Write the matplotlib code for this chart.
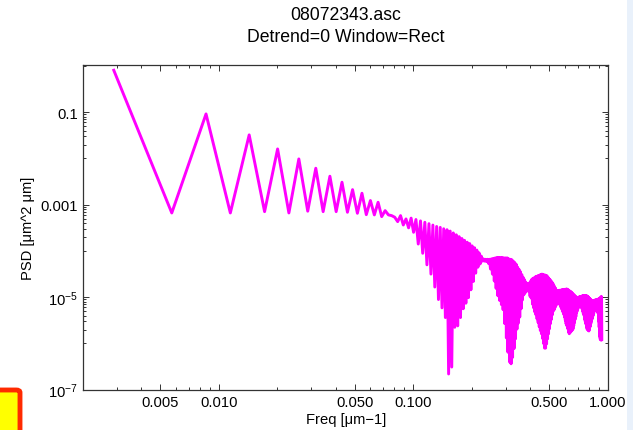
import numpy as np
import matplotlib
matplotlib.use("Agg")
import matplotlib.pyplot as plt
from matplotlib.patches import FancyBboxPatch, Rectangle

plt.rcParams['font.family'] = ['Liberation Sans', 'DejaVu Sans']
plt.rcParams['mathtext.fontset'] = 'custom'
plt.rcParams['mathtext.rm'] = 'Liberation Sans'
plt.rcParams['mathtext.it'] = 'Liberation Sans:italic'

# ---- data -------------------------------------------------------------
title_lines = ["08072343.asc", "Detrend=0 Window=Rect"]
x_label = "Freq [\u03bcm\u22121]"
y_label = "PSD [\u03bcm^2 \u03bcm]"

# frequency resolution of the spectrum (1 / scan length), um^-1
freq_step = 0.00287

# log10 of the PSD at each frequency bin k = 1, 2, 3, ...
psd_log10 = [
    -0.063, -3.178, -1.037, -3.178, -1.49, -3.15, -1.794, -3.178, -2.01, -3.14,
    -2.211, -3.15, -2.384, -3.15, -2.514, -3.163, -2.674, -3.185, -2.752, -3.215,
    -2.91, -3.22, -2.947, -3.258, -3.128, -3.22, -3.236, -3.27, -3.366, -3.236,
    -3.438, -3.308, -3.5, -3.29, -3.596, -3.32, -3.85,
    -3.35, -4.05, -3.38, -4.30, -3.41, -4.50, -3.44, -4.78, -3.47, -5.05,
    -3.49, -5.23, -3.52, -5.44, -3.54, -6.66, -3.57, -6.51, -3.61, -5.65,
    -3.65, -5.62, -3.69, -5.44, -3.73, -5.25, -3.77, -5.13, -3.81, -5.01,
    -3.84, -4.84, -3.89, -4.66, -3.93, -4.48, -3.98, -4.35, -4.04, -4.28,
    -4.11, -4.22, -4.17, -4.22, -4.18, -4.23, -4.18, -4.27, -4.18, -4.39,
    -4.17, -4.50, -4.16, -4.65, -4.15, -4.81, -4.14, -4.97, -4.14, -5.07,
    -4.14, -5.16, -4.14, -5.27, -4.15, -5.57, -4.15, -5.88, -4.15, -6.19,
    -4.17, -6.40, -4.18, -6.44, -4.19, -6.30, -4.22, -6.11, -4.25, -5.90,
    -4.29, -5.69, -4.35, -5.56, -4.40, -5.43, -4.45, -5.25, -4.51, -5.06,
    -4.57, -4.95, -4.62, -4.91, -4.67, -4.87, -4.70, -4.84, -4.73, -4.88,
    -4.69, -4.98, -4.65, -5.02, -4.61, -5.15, -4.59, -5.23, -4.58, -5.32,
    -4.56, -5.38, -4.55, -5.47, -4.54, -5.55, -4.53, -5.64, -4.52, -5.72,
    -4.51, -5.79, -4.50, -5.89, -4.51, -6.00, -4.52, -6.10, -4.52, -6.10,
    -4.53, -6.01, -4.54, -5.90, -4.57, -5.79, -4.60, -5.68, -4.62, -5.57,
    -4.65, -5.48, -4.67, -5.38, -4.70, -5.30, -4.74, -5.27, -4.78, -5.22,
    -4.81, -5.18, -4.85, -5.13, -4.86, -5.09, -4.86, -5.11, -4.85, -5.15,
    -4.85, -5.19, -4.85, -5.23, -4.84, -5.27, -4.84, -5.32, -4.84, -5.37,
    -4.83, -5.43, -4.83, -5.50, -4.83, -5.58, -4.82, -5.62, -4.83, -5.68,
    -4.84, -5.75, -4.85, -5.79, -4.87, -5.77, -4.87, -5.75, -4.89, -5.73,
    -4.90, -5.71, -4.92, -5.69, -4.94, -5.62, -4.95, -5.55, -4.97, -5.48,
    -4.98, -5.42, -5.00, -5.33, -5.01, -5.30, -5.01, -5.25, -5.00, -5.20,
    -5.00, -5.15, -4.99, -5.10, -4.99, -5.15, -4.99, -5.20, -4.98, -5.25,
    -4.97, -5.30, -4.97, -5.35, -4.97, -5.39, -4.97, -5.47, -4.97, -5.52,
    -4.97, -5.58, -4.97, -5.64, -4.97, -5.69, -4.98, -5.70, -4.99, -5.72,
    -5.01, -5.73, -5.02, -5.69, -5.03, -5.64, -5.05, -5.58, -5.06, -5.53,
    -5.07, -5.48, -5.08, -5.44, -5.08, -5.40, -5.07, -5.36, -5.07, -5.31,
    -5.07, -5.27, -5.06, -5.26, -5.06, -5.27, -5.06, -5.29, -5.06, -5.30,
    -5.05, -5.31, -5.05, -5.35, -5.04, -5.52, -5.03, -5.65, -5.03, -5.85,
    -5.02, -5.91, -5.01, -5.92, -4.99, -5.93, -4.99, -5.94,
]

x_major = [0.005, 0.01, 0.05, 0.1, 0.5, 1.0]
x_major_labels = ["0.005", "0.010", "0.050", "0.100", "0.500", "1.000"]
x_minor = [m * d for d in (0.001, 0.01, 0.1) for m in range(2, 10) if m != 5]

y_major = [1e-1, 1e-3, 1e-5, 1e-7]
y_major_labels = ["0.1", "0.001", r"$10^{-5}$", r"$10^{-7}$"]
# unlabelled decades, and the 2..9 subdivisions below each labelled decade
y_mid = [1.0, 1e-2, 1e-4, 1e-6]
y_minor = [m * 10.0 ** e for e in (-2, -4, -6) for m in range(2, 10)]

freq = freq_step * np.arange(1, len(psd_log10) + 1)
psd = 10.0 ** np.asarray(psd_log10)

# ---- figure -----------------------------------------------------------
W, H = 633, 431
fig = plt.figure(figsize=(W / 100, H / 100), dpi=100)
fig.patch.set_facecolor("white")

left, right, top, bottom = 83.3, 608.3, 66.0, 390.7
ax = fig.add_axes([left / W, 1 - bottom / H, (right - left) / W, (bottom - top) / H])
ax.plot(freq, psd, color="#ff00ff", lw=2.1, solid_joinstyle="round",
        solid_capstyle="butt", zorder=3)
ax.set_xscale("log")
ax.set_yscale("log")
ax.set_xlim(0.002014, 1.0071)
ax.set_ylim(1e-7, 1.05)

frame_color = "#333333"
for sp in ax.spines.values():
    sp.set_color(frame_color)
    sp.set_linewidth(0.9)

ax.xaxis.set_major_locator(matplotlib.ticker.FixedLocator(x_major))
ax.xaxis.set_major_formatter(matplotlib.ticker.FixedFormatter(x_major_labels))
ax.xaxis.set_minor_locator(matplotlib.ticker.FixedLocator(x_minor))
ax.xaxis.set_minor_formatter(matplotlib.ticker.NullFormatter())

ax.yaxis.set_major_locator(matplotlib.ticker.FixedLocator(y_major))
ax.yaxis.set_major_formatter(matplotlib.ticker.FixedFormatter(y_major_labels))
ax.yaxis.set_minor_locator(matplotlib.ticker.FixedLocator(y_minor + y_mid))
ax.yaxis.set_minor_formatter(matplotlib.ticker.NullFormatter())

ax.tick_params(which="both", direction="in", top=True, right=True,
               color=frame_color, width=0.7, labelsize=10.6, labelcolor="black")
ax.tick_params(which="major", length=4.5, pad=4)
ax.tick_params(which="minor", length=2.2)

ax.set_xlabel(x_label, fontsize=10.6, labelpad=2)
ax.set_ylabel(y_label, fontsize=10.6, labelpad=4)

fig.text(345.8 / W, 1 - 15 / H, title_lines[0], ha="center", va="center", fontsize=12.7)
fig.text(345.8 / W, 1 - 37 / H, title_lines[1], ha="center", va="center", fontsize=12.7)

# window chrome around the plot
fig.patches.append(Rectangle((627 / W, 0), 6 / W, 1, transform=fig.transFigure,
                             facecolor="#e9f1fb", edgecolor="none"))
fig.patches.append(FancyBboxPatch((-10 / W, -10 / H), 30 / W, 50 / H,
                                  boxstyle="round,pad=0,rounding_size=0.006",
                                  transform=fig.transFigure, facecolor="#ffff00",
                                  edgecolor="#ff2a00", linewidth=3.5))

fig.savefig("out.png", dpi=100)
